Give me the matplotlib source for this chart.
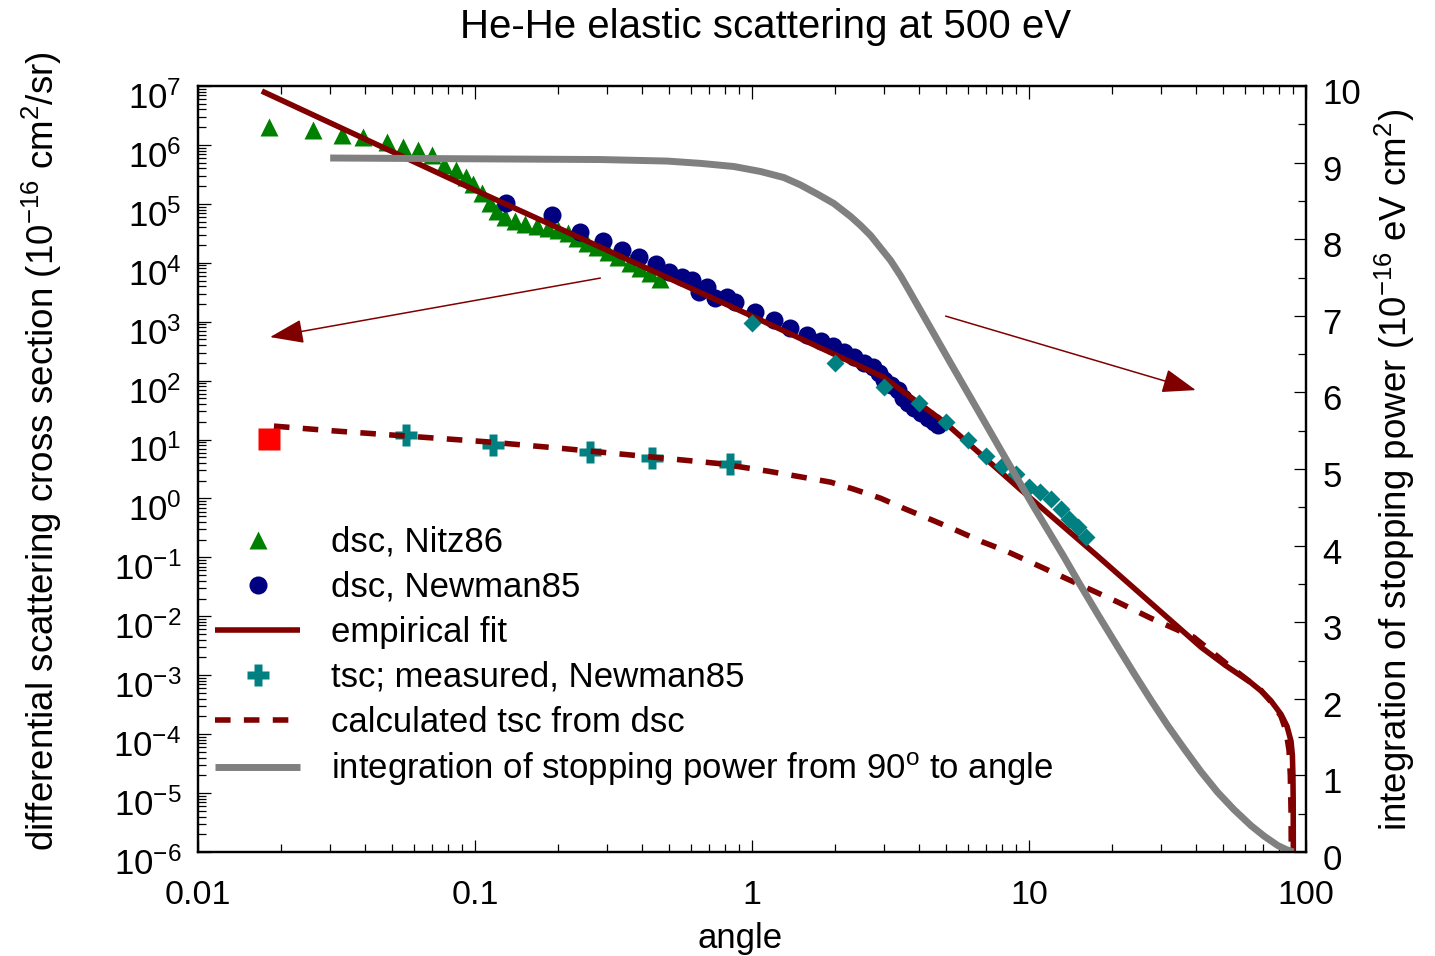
import numpy as np
import matplotlib
matplotlib.use('Agg')
import matplotlib.pyplot as plt
import matplotlib.transforms as mtransforms
from matplotlib.ticker import LogLocator, FuncFormatter, MultipleLocator, NullFormatter
from matplotlib.patches import FancyArrowPatch

plt.rcParams['font.family'] = ['Liberation Sans', 'DejaVu Sans']
plt.rcParams['mathtext.fontset'] = 'custom'
plt.rcParams['mathtext.rm'] = 'Liberation Sans'
plt.rcParams['mathtext.it'] = 'Liberation Sans:italic'
plt.rcParams['mathtext.bf'] = 'Liberation Sans:bold'
plt.rcParams['axes.unicode_minus'] = False

# ---------------- data ----------------
nitz_angle = [0.01805, 0.02603, 0.03314, 0.03947, 0.04818, 0.05505, 0.06235, 0.07007,
              0.07745, 0.0855, 0.0930, 0.0986, 0.1062, 0.1135, 0.1203, 0.1286, 0.1397,
              0.1519, 0.1679, 0.1839, 0.1999, 0.2172, 0.2341, 0.2543, 0.2764, 0.3030,
              0.3293, 0.3639, 0.3955, 0.4297, 0.4670]
nitz_dsc = [2.01e6, 1.79e6, 1.47e6, 1.36e6, 1.12e6, 9.2e5, 8.18e5, 6.74e5,
            4.56e5, 3.75e5, 2.85e5, 2.17e5, 1.52e5, 1.03e5, 7.55e4, 5.97e4, 5.11e4,
            4.54e4, 4.2e4, 3.88e4, 3.59e4, 3.19e4, 2.62e4, 2.16e4, 1.85e4, 1.52e4,
            1.25e4, 9.9e3, 8.1e3, 6.7e3, 5.3e3]

newman_angle = [0.1297, 0.1901, 0.2400, 0.2906, 0.3404, 0.3922, 0.4517, 0.5032, 0.5608,
                0.6095, 0.6459, 0.6906, 0.7380, 0.8156, 0.8717, 1.021, 1.196, 1.377,
                1.574, 1.768, 1.954, 2.141, 2.327, 2.529, 2.725, 2.865, 2.987, 3.166,
                3.356, 3.498, 3.647, 3.833, 4.063, 4.308, 4.529, 4.680]
newman_dsc = [1.03e5, 6.46e4, 3.32e4, 2.33e4, 1.64e4, 1.25e4, 9.5e3, 6.95e3, 5.71e3,
              5.08e3, 3.18e3, 3.87e3, 2.52e3, 2.62e3, 2.15e3, 1.46e3, 1.06e3, 778,
              592, 469, 385, 305, 251, 198, 169, 134, 102, 83.9,
              69.0, 50.5, 41.5, 34.1, 28.1, 23.1, 19.7, 17.5]

other_dsc_angle = [1, 2, 3, 4, 5, 6, 7, 8, 9, 10, 11, 12, 13, 14, 15, 16]
other_dsc = [935, 196, 78.5, 41.0, 19.9, 10.0, 5.22, 3.53, 2.65, 1.57, 1.27, 0.973,
             0.658, 0.457, 0.322, 0.218]

fit_angle = [0.017, 0.1, 1.0, 2.985, 5.0, 9.33, 17.7, 41.8, 51.4, 63.3, 68.7, 74.7,
             81.2, 85.4, 88.3, 89.3, 89.7, 89.9, 90.0]
fit_dsc = [8.2e6, 1.71e5, 1.245e3, 114.6, 19.0, 1.41, 0.105, 2.99e-3, 1.45e-3, 7.46e-4,
           5.46e-4, 3.69e-4, 2.18e-4, 1.36e-4, 7.57e-5, 4.38e-5, 2.0e-5, 7.5e-6, 1.0e-6]

tsc_meas_angle = [0.0562, 0.116, 0.261, 0.434, 0.836]
tsc_meas = [11.9, 8.0, 6.1, 4.8, 3.8]

tsc_point_angle = [0.018]
tsc_point = [10.4]

tsc_calc_angle = [0.0188, 0.0304, 0.0574, 0.1104, 0.2066, 0.3945, 0.753, 1.146, 1.496,
                  1.923, 2.328, 2.911, 3.589, 4.477, 5.521, 6.792, 8.241, 11.30, 15.38,
                  20.89, 27.54, 39.36, 53.58, 68.71, 76.0, 81.2, 84.6, 86.84, 87.78,
                  88.3, 88.5]
tsc_calc = [16.9, 14.1, 11.4, 9.15, 7.06, 5.28, 3.93, 2.90, 2.33,
            1.89, 1.44, 1.01, 0.658, 0.429, 0.282, 0.183, 0.129, 0.0656, 0.0337,
            0.0175, 0.00929, 0.00442, 0.00137, 5.6e-4, 3.22e-4, 2.01e-4, 1.16e-4,
            5.33e-5, 2.0e-5, 5.1e-6, 1e-6]

sp_angle = [0.030, 0.2835, 0.4938, 0.652, 0.860, 1.073, 1.303, 1.497, 1.720, 1.975,
            2.270, 2.466, 2.681, 2.913, 3.166, 3.441, 3.638, 4.343, 5.216, 6.42,
            7.907, 10.43, 13.39, 15.13, 17.72, 20.93, 23.90, 27.54, 31.72, 36.34,
            41.74, 47.97, 54.94, 63.28, 70.5, 79.05, 84.7, 90.0]
sp_int = [9.06, 9.04, 9.02, 8.99, 8.949, 8.884, 8.805, 8.708, 8.590, 8.466,
          8.296, 8.179, 8.048, 7.885, 7.722, 7.520, 7.370, 6.884, 6.38, 5.816,
          5.248, 4.50, 3.85, 3.518, 3.102, 2.674, 2.336, 1.984, 1.648, 1.347,
          1.050, 0.780, 0.554, 0.345, 0.209, 0.085, 0.033, 0.0]

arrow_left_tail = (0.2836, 5.5e3)
arrow_left_tip = (0.0182, 548)
arrow_right_tail = (5.0, 1245)
arrow_right_tip = (40.0, 69)

title = 'He-He elastic scattering at 500 eV'
xlabel = 'angle'
ylabel_left = r'differential scattering cross section (10$^{-16}$ cm$^{2}$/sr)'
ylabel_right = r'integration of stopping power (10$^{-16}$ eV cm$^{2}$)'

DARKRED = '#800000'
GREEN = '#008000'
NAVY = '#000080'
TEAL = '#008080'
GRAY = '#808080'

# ---------------- figure ----------------
W, H = 1435, 956
fig = plt.figure(figsize=(W / 100, H / 100), dpi=100)
ax = fig.add_axes([198 / W, 1 - 852 / H, 1108 / W, 766 / H])
ax.set_xscale('log')
ax.set_yscale('log')
ax.set_xlim(0.01, 100)
ax.set_ylim(1e-6, 1e7)

h_tri, = ax.plot(nitz_angle, nitz_dsc, linestyle='none', marker='^', ms=12.5,
                 color=GREEN, mec='none', zorder=2, label='dsc, Nitz86')
h_circ, = ax.plot(newman_angle, newman_dsc, linestyle='none', marker='o', ms=13,
                  color=NAVY, mec='none', zorder=3, label='dsc, Newman85')
h_fit, = ax.plot(fit_angle, fit_dsc, color=DARKRED, lw=4, solid_capstyle='butt',
                 solid_joinstyle='round', zorder=4, label='empirical fit')
ax.plot(other_dsc_angle, other_dsc, linestyle='none', marker='D', ms=9,
        color=TEAL, mec='none', zorder=5)
h_plus, = ax.plot(tsc_meas_angle, tsc_meas, linestyle='none', marker='P', ms=16,
                  color=TEAL, mec='none', zorder=3, label='tsc; measured, Newman85')
h_dash, = ax.plot(tsc_calc_angle, tsc_calc, color=DARKRED, lw=4,
                  linestyle=(0, (2.8, 2.4)), dash_capstyle='butt', zorder=5,
                  label='calculated tsc from dsc')
ax.plot(tsc_point_angle, tsc_point, linestyle='none', marker='s', ms=16,
        color='#ff0000', mec='none', zorder=6)

for tail, tip in [(arrow_left_tail, arrow_left_tip), (arrow_right_tail, arrow_right_tip)]:
    arr = FancyArrowPatch(tail, tip, arrowstyle='-|>,head_length=2.1,head_width=0.75',
                          mutation_scale=10, color=DARKRED, lw=1.1,
                          shrinkA=0, shrinkB=0, zorder=6)
    ax.add_patch(arr)

ax2 = ax.twinx()
ax2.set_ylim(0, 10)
h_gray, = ax2.plot(sp_angle, sp_int, color=GRAY, lw=5, solid_capstyle='butt',
                   solid_joinstyle='round',
                   label=r'integration of stopping power from 90$^{\mathrm{o}}$ to angle')

# ticks
ax.xaxis.set_major_locator(LogLocator(base=10, numticks=10))
ax.xaxis.set_minor_locator(LogLocator(base=10, subs=np.arange(2, 10), numticks=100))
ax.xaxis.set_major_formatter(FuncFormatter(lambda v, p: '%g' % v))
ax.xaxis.set_minor_formatter(NullFormatter())
ax.yaxis.set_major_locator(LogLocator(base=10, numticks=30))
ax.yaxis.set_minor_locator(LogLocator(base=10, subs=np.arange(2, 10), numticks=200))
ax.yaxis.set_major_formatter(FuncFormatter(lambda v, p: r'$10^{%d}$' % int(round(np.log10(v)))))
ax.yaxis.set_minor_formatter(NullFormatter())

ax.tick_params(which='both', direction='in', top=True, bottom=True, left=True,
               right=False, width=0.9, colors='black')
ax.tick_params(which='major', length=9)
ax.tick_params(which='minor', length=6)
ax.tick_params(axis='x', labelsize=24.5, pad=20)
ax.tick_params(axis='y', labelsize=25, pad=12)

ax2.yaxis.set_major_locator(MultipleLocator(1))
ax2.yaxis.set_minor_locator(MultipleLocator(0.5))
ax2.tick_params(axis='y', which='both', direction='in', right=True, width=0.9)
ax2.tick_params(axis='y', which='major', length=9, labelsize=25, pad=12)
ax2.tick_params(axis='y', which='minor', length=6)

for a in (ax, ax2):
    for s in a.spines.values():
        s.set_linewidth(1.6)

# shift y tick labels slightly downward, as in the reference
off_left = mtransforms.ScaledTranslation(0, -9 / 100, fig.dpi_scale_trans)
for lab in ax.get_yticklabels():
    lab.set_transform(lab.get_transform() + off_left)
off_right = mtransforms.ScaledTranslation(0, -5 / 100, fig.dpi_scale_trans)
for lab in ax2.get_yticklabels():
    lab.set_transform(lab.get_transform() + off_right)

# labels
fig.text(766 / W, 1 - 27 / H, title, ha='center', va='center', fontsize=29)
fig.text(740 / W, 1 - 948 / H, xlabel, ha='center', va='baseline', fontsize=25)
fig.text(42 / W, 1 - 451 / H, ylabel_left, ha='center', va='center', rotation=90,
         fontsize=26.5)
fig.text(1395 / W, 1 - 470 / H, ylabel_right, ha='center', va='center', rotation=90,
         fontsize=26.5)

handles = [h_tri, h_circ, h_fit, h_plus, h_dash, h_gray]
leg = ax2.legend(handles, [h.get_label() for h in handles], loc='upper left',
                 bbox_to_anchor=(215 / W, 1 - 526 / H), bbox_transform=fig.transFigure,
                 frameon=False, borderpad=0, borderaxespad=0, handlelength=2.45,
                 handletextpad=0.9, labelspacing=0.345, fontsize=25, numpoints=1)

fig.savefig('out.png', dpi=100)
